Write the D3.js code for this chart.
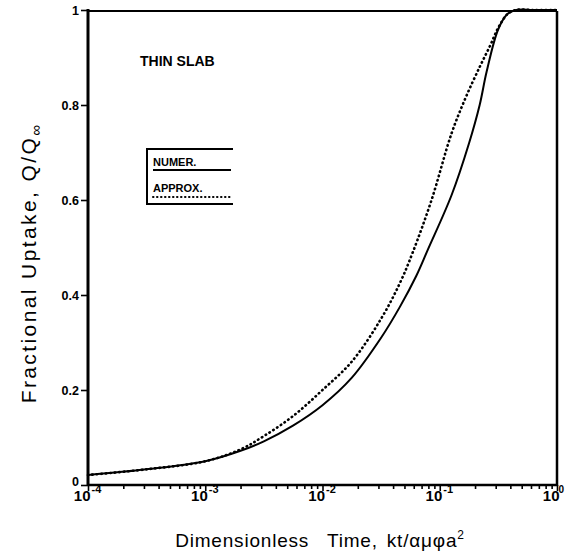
<!DOCTYPE html>
<html>
<head>
<meta charset="utf-8">
<title>Thin slab uptake</title>
<script src="https://cdn.jsdelivr.net/npm/d3@7/dist/d3.min.js"></script>
<style>
body { margin: 0; background: #fff; }
svg { font-family: "Liberation Sans", Arial, sans-serif; }
.tick text { font-weight: bold; font-size: 12.5px; fill: #000; }
.tick line { stroke: #000; stroke-width: 1.6px; }
</style>
</head>
<body>
<svg id="chart"></svg>
<script>
// values (x = kt/(alpha mu phi a^2), y = Q/Qinf)
var timeNumer = [1e-4, 3.16e-4, 1e-3, 2e-3, 3.16e-3, 5.6e-3, 1e-2, 1.78e-2, 3.16e-2, 4.57e-2, 6.3e-2, 7.9e-2, 0.126, 0.178, 0.219, 0.251, 0.316, 0.38, 0.447, 0.63, 1];
var upNumer   = [0.021, 0.033, 0.05, 0.072, 0.092, 0.125, 0.168, 0.226, 0.31, 0.375, 0.44, 0.495, 0.61, 0.72, 0.80, 0.87, 0.96, 0.992, 1, 1, 1];

var timeApprox = [1e-4, 3.16e-4, 1e-3, 2e-3, 3.16e-3, 5.6e-3, 1e-2, 1.78e-2, 3.16e-2, 4.57e-2, 5.89e-2, 8.51e-2, 0.126, 0.166, 0.219, 0.269, 0.316, 0.38, 0.447, 0.63, 1];
var upApprox   = [0.021, 0.033, 0.05, 0.075, 0.103, 0.145, 0.2, 0.26, 0.35, 0.425, 0.49, 0.6, 0.74, 0.815, 0.88, 0.925, 0.963, 0.992, 1, 1, 1];

var yTicks = [0, 0.2, 0.4, 0.6, 0.8, 1];
var xDecades = [-4, -3, -2, -1, 0];

var W = 565, H = 556;
var margin = {top: 10, right: 8, bottom: 71, left: 88};

var svg = d3.select("#chart").attr("width", W).attr("height", H);

var x = d3.scaleLog().domain([1e-4, 1]).range([margin.left, W - margin.right]);
var y = d3.scaleLinear().domain([0, 1]).range([H - margin.bottom, margin.top]);

var x0 = x.range()[0], x1 = x.range()[1], y0 = y.range()[0], y1 = y.range()[1];

// curves first, the frame is drawn over them
var line = d3.line()
  .x(function(d) { return x(d[0]); })
  .y(function(d) { return y(d[1]); })
  .curve(d3.curveCatmullRom.alpha(0.5));

svg.append("path").datum(d3.zip(timeNumer, upNumer))
  .attr("d", line).attr("fill", "none").attr("stroke", "#000").attr("stroke-width", 2);

svg.append("path").datum(d3.zip(timeApprox, upApprox))
  .attr("d", line).attr("fill", "none").attr("stroke", "#000").attr("stroke-width", 2.6)
  .attr("stroke-linecap", "round").attr("stroke-dasharray", "0.5,4");

// minor ticks 2..9 in each decade
var minor = [];
xDecades.slice(0, -1).forEach(function(p) {
  for (var k = 2; k <= 9; k++) minor.push(k * Math.pow(10, p));
});

var gxMinor = svg.append("g").attr("transform", "translate(0," + y0 + ")")
  .call(d3.axisBottom(x).tickValues(minor).tickSize(4).tickFormat(""));
gxMinor.select(".domain").remove();

var gx = svg.append("g").attr("transform", "translate(0," + y0 + ")")
  .call(d3.axisBottom(x).tickValues(xDecades.map(function(p) { return Math.pow(10, p); })).tickSize(6).tickFormat(""));
gx.select(".domain").remove();

// decade labels "10" with superscript exponent
gx.selectAll(".tick").each(function(d) {
  var p = Math.round(Math.log10(d));
  var t = d3.select(this);
  t.append("text").attr("x", 2).attr("y", 16).attr("text-anchor", "end")
    .style("font-size", "15px").text("10");
  t.append("text").attr("x", p === 0 ? 1 : 3).attr("y", 8).attr("text-anchor", "start")
    .style("font-size", p === 0 ? "10px" : "11px").text(p === 0 ? "0" : "-" + Math.abs(p));
});

var gy = svg.append("g").attr("transform", "translate(" + x0 + ",0)")
  .call(d3.axisLeft(y).tickValues(yTicks).tickSize(7).tickPadding(2)
    .tickFormat(function(d) { return d === 0 ? "0" : d === 1 ? "1" : d3.format(".1f")(d); }));
gy.select(".domain").remove();
gy.selectAll(".tick text").filter(function(d) { return d === 0; }).attr("dy", "0em");

// frame
svg.append("line").attr("x1", x0).attr("x2", x0).attr("y1", y1 - 1).attr("y2", y0 + 1)
  .attr("stroke", "#000").attr("stroke-width", 3);
svg.append("line").attr("x1", x0).attr("x2", x1).attr("y1", y0).attr("y2", y0)
  .attr("stroke", "#000").attr("stroke-width", 2.5);
svg.append("line").attr("x1", x1).attr("x2", x1).attr("y1", y1 + 1).attr("y2", y0 + 1)
  .attr("stroke", "#000").attr("stroke-width", 2.5);
svg.append("line").attr("x1", x0).attr("x2", x1).attr("y1", y1 + 1).attr("y2", y1 + 1)
  .attr("stroke", "#000").attr("stroke-width", 2);

// annotation
svg.append("text").attr("x", 140).attr("y", 66)
  .style("font-size", "14px").style("font-weight", "bold")
  .text("THIN SLAB");

// legend
var lg = svg.append("g");
lg.append("path").attr("d", "M233,149 H147 V204 H233")
  .attr("fill", "none").attr("stroke", "#000").attr("stroke-width", 2);
lg.append("text").attr("x", 153).attr("y", 166)
  .style("font-size", "11px").style("font-weight", "bold").text("NUMER.");
lg.append("line").attr("x1", 153).attr("x2", 231).attr("y1", 170).attr("y2", 170)
  .attr("stroke", "#000").attr("stroke-width", 2);
lg.append("text").attr("x", 153).attr("y", 192)
  .style("font-size", "11px").style("font-weight", "bold").text("APPROX.");
lg.append("line").attr("x1", 153).attr("x2", 231).attr("y1", 197).attr("y2", 197)
  .attr("stroke", "#000").attr("stroke-width", 2).attr("stroke-linecap", "round")
  .attr("stroke-dasharray", "0.5,3.5");

// axis titles
svg.append("text").attr("x", 320).attr("y", 547).attr("text-anchor", "middle")
  .style("font-size", "19px").style("letter-spacing", "0.8px").style("word-spacing", "3px")
  .html("Dimensionless\u00a0 Time, kt/\u03b1\u03bc\u03c6a<tspan dy='-8' font-size='12px'>2</tspan>");

svg.append("text").attr("transform", "translate(36,263) rotate(-90)").attr("text-anchor", "middle")
  .style("font-size", "21px").style("letter-spacing", "2.4px")
  .html("Fractional Uptake, Q/Q<tspan dy='5' font-size='15px'>\u221e</tspan>");
</script>
</body>
</html>
